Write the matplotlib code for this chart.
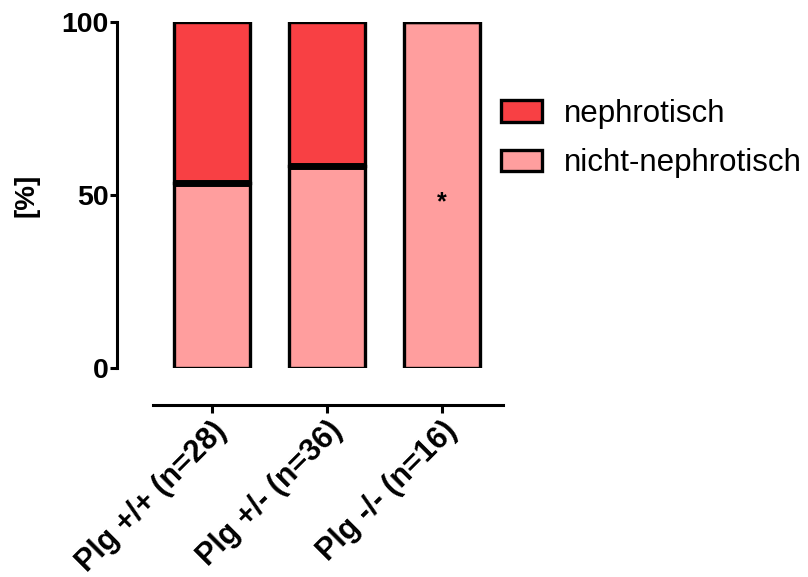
import matplotlib
matplotlib.use("Agg")
import matplotlib.pyplot as plt
import numpy as np

plt.rcParams['font.family'] = ['Liberation Sans', 'DejaVu Sans']

# data (percent of animals)
groups = ["Plg +/+ (n=28)", "Plg +/- (n=36)", "Plg -/- (n=16)"]
nicht_nephrotisch = [53.6, 58.3, 100.0]
nephrotisch = [46.4, 41.7, 0.0]
yticks = [0, 50, 100]

red = "#F84044"
pink = "#FF9E9E"

fig = plt.figure(figsize=(8.08, 5.77), dpi=100)
ax = fig.add_axes([153 / 808, 1 - 368 / 577, 350 / 808, 346 / 577])

# spine positions first (set_position resets tick formatting)
for s in ["top", "right"]:
    ax.spines[s].set_visible(False)
ax.spines["left"].set_position(("outward", 26))
ax.spines["bottom"].set_position(("outward", 26.5))

x = np.arange(len(groups))
w = 0.66
lw = 2.4
ax.bar(x, nicht_nephrotisch, width=w, color=pink, edgecolor="black",
       linewidth=lw, label="nicht-nephrotisch", zorder=2)
ax.bar(x, nephrotisch, width=w, bottom=nicht_nephrotisch, color=red,
       edgecolor="black", linewidth=lw, label="nephrotisch", zorder=2)

# thicker separator where both segments exist
for xi, lo, hi in zip(x, nicht_nephrotisch, nephrotisch):
    if lo > 0 and hi > 0:
        ax.hlines(lo, xi - w / 2, xi + w / 2, color="black", linewidth=5, zorder=3)

# significance mark
ax.text(2, 48, "*", ha="center", va="center", fontsize=18, fontweight="bold")

ax.set_xlim(-0.51, 2.53)
ax.set_ylim(0, 100)
ax.spines["left"].set_bounds(0, 100)
for s in ["left", "bottom"]:
    ax.spines[s].set_linewidth(2.2)

ax.set_yticks(yticks)
ax.set_yticklabels([str(v) for v in yticks], fontsize=20.5, fontweight="bold")
ax.set_xticks(x)
ax.set_xticklabels(groups, rotation=45, ha="right", rotation_mode="anchor",
                   fontsize=22, fontweight="bold")
ax.set_ylabel("[%]", fontsize=20, fontweight="bold", labelpad=16)
ax.tick_params(axis="y", length=5, width=2.2, pad=1)
ax.tick_params(axis="x", length=6, width=2.2, pad=2)

handles, labels = ax.get_legend_handles_labels()
ax.legend(handles[::-1], labels[::-1], loc="upper left",
          bbox_to_anchor=(501 / 808, 1 - 99 / 577), bbox_transform=fig.transFigure,
          frameon=False, fontsize=22.5, handlelength=1.3, handleheight=0.68,
          handletextpad=0.72, labelspacing=0.62, borderpad=0, borderaxespad=0)

fig.savefig("out.png", dpi=100)
